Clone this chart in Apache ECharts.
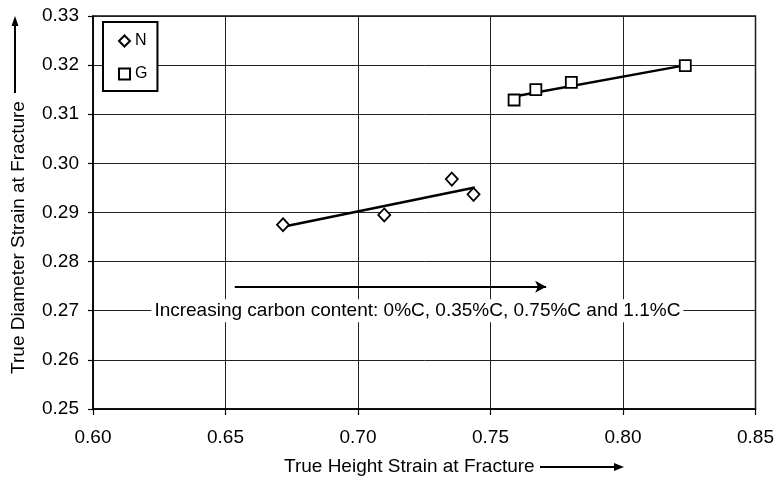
<!DOCTYPE html>
<html><head><meta charset="utf-8">
<script src="https://cdn.jsdelivr.net/npm/echarts@6/dist/echarts.min.js"></script>
<style>html,body{margin:0;padding:0;background:#fff}#c{width:777px;height:480px}</style>
</head><body><div id="c"></div>
<script>
// ---- data ----
const xTicks = [0.60, 0.65, 0.70, 0.75, 0.80, 0.85];
const yTicks = [0.25, 0.26, 0.27, 0.28, 0.29, 0.30, 0.31, 0.32, 0.33];
const seriesNames = ['N', 'G'];
const nX = [0.6717, 0.7099, 0.7354, 0.7436];
const nY = [0.2875, 0.2895, 0.2968, 0.2937];
const gX = [0.7589, 0.7671, 0.7805, 0.8235];
const gY = [0.3129, 0.3150, 0.3165, 0.3199];
const nFitX = [0.6717, 0.7441];
const nFitY = [0.2871, 0.2951];
const gFitX = [0.7589, 0.8248];
const gFitY = [0.3136, 0.3201];
const arrowX = [0.6535, 0.771];
const arrowY = [0.2749, 0.2749];
const noteText = 'Increasing carbon content: 0%C, 0.35%C, 0.75%C and 1.1%C';
const notePos = [0.7224, 0.27];
const xTitle = 'True Height Strain at Fracture';
const yTitle = 'True Diameter Strain at Fracture';

const zip = (a, b) => a.map((v, i) => [v, b[i]]);
const FONT = 'Liberation Sans, Arial, sans-serif';

const chart = echarts.init(document.getElementById('c'), null, {renderer: 'canvas'});
chart.setOption({
  animation: false,
  backgroundColor: '#fff',
  grid: {left: 93, right: 20, top: 16, bottom: 71, show: true, borderColor: '#111', borderWidth: 1.5, backgroundColor: 'transparent'},
  legend: {
    data: seriesNames,
    orient: 'vertical',
    left: 103, top: 22,
    padding: [11, 10, 9, 15],
    itemGap: 17,
    itemWidth: 11, itemHeight: 11,
    backgroundColor: '#fff',
    borderColor: '#000', borderWidth: 2,
    textStyle: {fontSize: 16, color: '#000', fontFamily: FONT}
  },
  xAxis: {
    type: 'value',
    min: xTicks[0], max: xTicks[xTicks.length - 1],
    interval: +(xTicks[1] - xTicks[0]).toFixed(4),
    axisLine: {show: true, lineStyle: {color: '#000', width: 1.5}},
    axisTick: {show: true, length: 6, lineStyle: {color: '#000', width: 1.2}},
    axisLabel: {margin: 19, fontSize: 19, color: '#000', fontFamily: FONT, formatter: v => v.toFixed(2)},
    splitLine: {show: true, lineStyle: {color: '#222', width: 1}}
  },
  yAxis: {
    type: 'value',
    min: yTicks[0], max: yTicks[yTicks.length - 1],
    interval: +(yTicks[1] - yTicks[0]).toFixed(4),
    axisLine: {show: true, lineStyle: {color: '#000', width: 1.5}},
    axisTick: {show: true, length: 5, lineStyle: {color: '#000', width: 1.2}},
    axisLabel: {margin: 14, fontSize: 19, color: '#000', fontFamily: FONT, formatter: v => v.toFixed(2)},
    splitLine: {show: true, lineStyle: {color: '#222', width: 1}}
  },
  series: [
    {
      name: 'N', type: 'scatter', data: zip(nX, nY), symbol: 'diamond', symbolSize: [12, 13],
      itemStyle: {color: '#fff', borderColor: '#000', borderWidth: 1.8, opacity: 1}, z: 5
    },
    {
      name: 'G', type: 'scatter', data: zip(gX, gY), symbol: 'rect', symbolSize: 11,
      itemStyle: {color: '#fff', borderColor: '#000', borderWidth: 1.8, opacity: 1}, z: 5
    },
    {
      type: 'line', data: zip(nFitX, nFitY), symbol: 'none', lineStyle: {color: '#000', width: 2.5}, z: 4, silent: true,
      markLine: {
        silent: true,
        symbol: ['none', 'arrow'], symbolSize: [9, 11],
        label: {show: false},
        lineStyle: {color: '#000', width: 2, type: 'solid'},
        data: [[{coord: [arrowX[0], arrowY[0]]}, {coord: [arrowX[1], arrowY[1]]}]]
      }
    },
    {
      type: 'line', data: zip(gFitX, gFitY), symbol: 'none', lineStyle: {color: '#000', width: 2.5}, z: 4, silent: true
    },
    {
      type: 'scatter', data: [notePos], symbolSize: 0, silent: true, z: 6,
      itemStyle: {opacity: 1},
      label: {
        show: true, position: 'inside', formatter: noteText,
        fontSize: 19, color: '#000', fontFamily: FONT,
        backgroundColor: '#fff', padding: [2, 3]
      }
    }
  ],
  graphic: [
    {type: 'text', x: 284, y: 467, style: {text: xTitle, fontSize: 19, fontFamily: FONT, fill: '#000', textAlign: 'left', textVerticalAlign: 'middle'}},
    {type: 'line', shape: {x1: 540, y1: 467, x2: 616, y2: 467}, style: {stroke: '#000', lineWidth: 2}},
    {type: 'polygon', shape: {points: [[624, 467], [614, 463], [614, 471]]}, style: {fill: '#000'}},
    {type: 'text', x: 19, y: 237.5, rotation: Math.PI / 2, style: {text: yTitle, fontSize: 19, fontFamily: FONT, fill: '#000', textAlign: 'center', textVerticalAlign: 'middle'}},
    {type: 'line', shape: {x1: 15, y1: 93, x2: 15, y2: 24}, style: {stroke: '#000', lineWidth: 2}},
    {type: 'polygon', shape: {points: [[15, 16], [11.5, 26], [18.5, 26]]}, style: {fill: '#000'}}
  ]
});
</script></body></html>
